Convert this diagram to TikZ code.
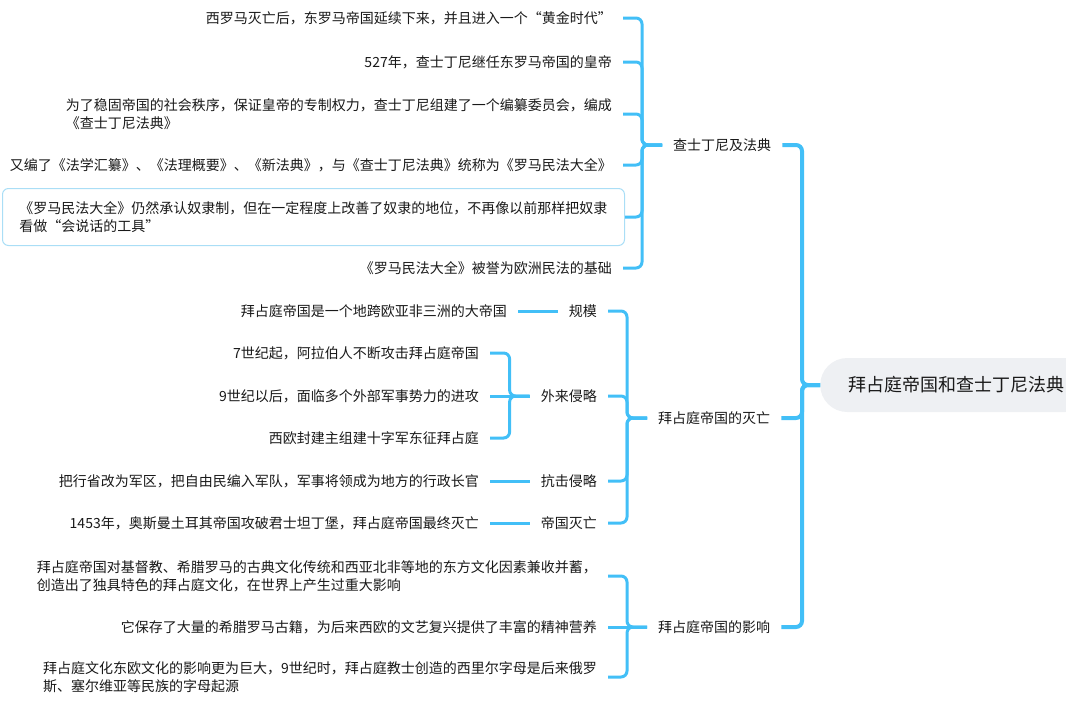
\documentclass[tikz,border=0pt]{standalone}
\usepackage{fontspec}
\setmainfont{Noto Sans CJK SC}
\definecolor{link}{RGB}{66,191,247}
\definecolor{boxline}{RGB}{170,222,246}
\definecolor{rootfill}{RGB}{238,240,243}
\begin{document}
\begin{tikzpicture}[x=1pt, y=-1pt, every node/.style={font=\fontsize{14pt}{18pt}\selectfont, text=black!90, inner xsep=11pt, inner ysep=2pt}, leaf/.style={anchor=east, align=left}, topic/.style={anchor=west}, conn/.style={draw=link, line width=3pt, rounded corners=6pt}, trunk/.style={conn, line width=4pt}]
\useasboundingbox (0,0) rectangle (1066,702);
\node[anchor=west, fill=rootfill, rounded corners=27pt, minimum height=54pt, inner xsep=28pt, font=\fontsize{18pt}{22pt}\selectfont] (root) at (820,385) {拜占庭帝国和查士丁尼法典};
\node[topic] (law) at (662,145) {查士丁尼及法典};
\node[topic] (fall) at (647,418) {拜占庭帝国的灭亡};
\node[topic] (infl) at (647,627) {拜占庭帝国的影响};
\node[leaf] (law1) at (623,18) {西罗马灭亡后，东罗马帝国延续下来，并且进入一个“黄金时代”};
\node[leaf] (law2) at (623,62) {527年，查士丁尼继任东罗马帝国的皇帝};
\node[leaf] (law3) at (623,114) {为了稳固帝国的社会秩序，保证皇帝的专制权力，查士丁尼组建了一个编纂委员会，编成\\《查士丁尼法典》};
\node[leaf] (law4) at (623,165) {又编了《法学汇纂》、《法理概要》、《新法典》，与《查士丁尼法典》统称为《罗马民法大全》};
\node[leaf, draw=boxline, line width=1pt, rounded corners=6pt, minimum width=622pt, minimum height=57pt, inner xsep=12pt] (law5) at (625,217) {《罗马民法大全》仍然承认奴隶制，但在一定程度上改善了奴隶的地位，不再像以前那样把奴隶\\看做“会说话的工具”};
\node[leaf] (law6) at (623,268) {《罗马民法大全》被誉为欧洲民法的基础};
\node[leaf] (scale) at (608,311) {规模};
\node[leaf] (inv) at (608,396) {外来侵略};
\node[leaf] (def) at (608,481) {抗击侵略};
\node[leaf] (fin) at (608,523) {帝国灭亡};
\node[leaf] (scale1) at (518,311) {拜占庭帝国是一个地跨欧亚非三洲的大帝国};
\node[leaf] (inv1) at (490,353) {7世纪起，阿拉伯人不断攻击拜占庭帝国};
\node[leaf] (inv2) at (490,396) {9世纪以后，面临多个外部军事势力的进攻};
\node[leaf] (inv3) at (490,438) {西欧封建主组建十字军东征拜占庭};
\node[leaf] (def1) at (490,481) {把行省改为军区，把自由民编入军队，军事将领成为地方的行政长官};
\node[leaf] (fin1) at (490,523) {1453年，奥斯曼土耳其帝国攻破君士坦丁堡，拜占庭帝国最终灭亡};
\node[leaf] (infl1) at (608,576) {拜占庭帝国对基督教、希腊罗马的古典文化传统和西亚北非等地的东方文化因素兼收并蓄，\\创造出了独具特色的拜占庭文化，在世界上产生过重大影响};
\node[leaf] (infl2) at (608,627) {它保存了大量的希腊罗马古籍，为后来西欧的文艺复兴提供了丰富的精神营养};
\node[leaf] (infl3) at (608,677) {拜占庭文化东欧文化的影响更为巨大，9世纪时，拜占庭教士创造的西里尔字母是后来俄罗\\斯、塞尔维亚等民族的字母起源};
\draw[trunk] (law.east) -| ([xshift=-18pt]root.west) -- (root.west);
\draw[trunk] (fall.east) -| ([xshift=-18pt]root.west) -- (root.west);
\draw[trunk] (infl.east) -| ([xshift=-18pt]root.west) -- (root.west);
\draw[conn] (law1.east) -| ([xshift=-20pt]law.west) -- (law.west);
\draw[conn] (law2.east) -| ([xshift=-20pt]law.west) -- (law.west);
\draw[conn] (law3.east) -| ([xshift=-20pt]law.west) -- (law.west);
\draw[conn] (law4.east) -| ([xshift=-20pt]law.west) -- (law.west);
\draw[conn] (law5.east) -| ([xshift=-20pt]law.west) -- (law.west);
\draw[conn] (law6.east) -| ([xshift=-20pt]law.west) -- (law.west);
\draw[conn] (scale.east) -| ([xshift=-20pt]fall.west) -- (fall.west);
\draw[conn] (inv.east) -| ([xshift=-20pt]fall.west) -- (fall.west);
\draw[conn] (def.east) -| ([xshift=-20pt]fall.west) -- (fall.west);
\draw[conn] (fin.east) -| ([xshift=-20pt]fall.west) -- (fall.west);
\draw[conn] (scale1.east) -- (scale.west);
\draw[conn] (inv1.east) -| ([xshift=-20pt]inv.west) -- (inv.west);
\draw[conn] (inv2.east) -- (inv.west);
\draw[conn] (inv3.east) -| ([xshift=-20pt]inv.west) -- (inv.west);
\draw[conn] (def1.east) -- (def.west);
\draw[conn] (fin1.east) -- (fin.west);
\draw[conn] (infl1.east) -| ([xshift=-20pt]infl.west) -- (infl.west);
\draw[conn] (infl2.east) -- (infl.west);
\draw[conn] (infl3.east) -| ([xshift=-20pt]infl.west) -- (infl.west);
\end{tikzpicture}
\end{document}
